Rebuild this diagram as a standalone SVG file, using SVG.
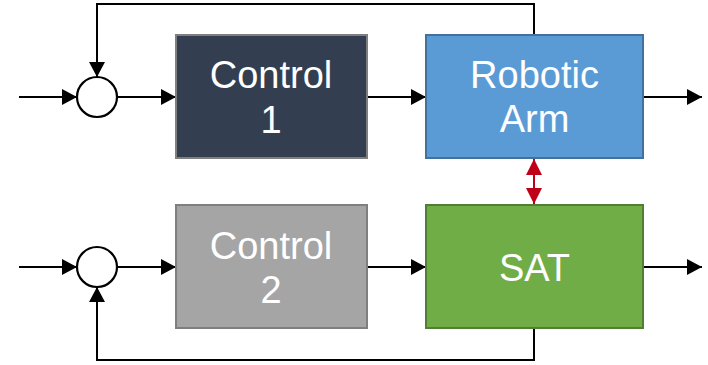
<svg xmlns="http://www.w3.org/2000/svg" width="708" height="365" viewBox="0 0 708 365">
  <defs>
    <marker id="arrow" markerUnits="userSpaceOnUse" markerWidth="18" markerHeight="18" viewBox="0 0 18 18" refX="15" refY="9" orient="auto">
      <path d="M0,1 L15,9 L0,17 Z" fill="#000"/>
    </marker>
    <marker id="arrowRed" markerUnits="userSpaceOnUse" markerWidth="18" markerHeight="18" viewBox="0 0 18 18" refX="16" refY="9" orient="auto-start-reverse">
      <path d="M0,1 L16,9 L0,17 Z" fill="#c00018"/>
    </marker>
    <style>
      .wire { fill: none; stroke: #000; stroke-width: 2; }
      .sum { fill: #fff; stroke: #000; stroke-width: 2.2; }
      .lbl { font-family: "Liberation Sans", Arial, sans-serif; font-size: 38px; fill: #fff; text-anchor: middle; }
    </style>
  </defs>

  <!-- connectors -->
  <g id="connectors">
    <!-- upper loop -->
    <path class="wire" d="M19,97 H77" marker-end="url(#arrow)"/>
    <path class="wire" d="M117,97 H176" marker-end="url(#arrow)"/>
    <path class="wire" d="M368,97 H426" marker-end="url(#arrow)"/>
    <path class="wire" d="M643,97 H702" marker-end="url(#arrow)"/>
    <path class="wire" d="M534,34 V4 H97 V77" marker-end="url(#arrow)"/>
    <!-- lower loop -->
    <path class="wire" d="M19,267 H77" marker-end="url(#arrow)"/>
    <path class="wire" d="M117,267 H176" marker-end="url(#arrow)"/>
    <path class="wire" d="M368,267 H426" marker-end="url(#arrow)"/>
    <path class="wire" d="M643,267 H702" marker-end="url(#arrow)"/>
    <path class="wire" d="M534,329 V360 H97 V287" marker-end="url(#arrow)"/>
    <!-- coupling between arm and satellite -->
    <path d="M534,159 V204" fill="none" stroke="#c00018" stroke-width="2" marker-start="url(#arrowRed)" marker-end="url(#arrowRed)"/>
  </g>

  <g id="sum1">
    <circle class="sum" cx="97" cy="97" r="20"/>
  </g>
  <g id="sum2">
    <circle class="sum" cx="97" cy="267" r="20"/>
  </g>

  <g id="control1">
    <rect x="176" y="35" width="191" height="123" fill="#333f50" stroke="#7f7f7f" stroke-width="2"/>
    <text class="lbl" x="271" y="88">Control</text>
    <text class="lbl" x="271" y="133">1</text>
  </g>

  <g id="robotic-arm">
    <rect x="426" y="35" width="217" height="123" fill="#5b9bd5" stroke="#41719c" stroke-width="2"/>
    <text class="lbl" x="534.5" y="88">Robotic</text>
    <text class="lbl" x="534.5" y="132">Arm</text>
  </g>

  <g id="control2">
    <rect x="176" y="205" width="191" height="123" fill="#a5a5a5" stroke="#7f7f7f" stroke-width="2"/>
    <text class="lbl" x="271" y="259">Control</text>
    <text class="lbl" x="271" y="303">2</text>
  </g>

  <g id="sat">
    <rect x="426" y="205" width="217" height="123" fill="#70ad47" stroke="#507e32" stroke-width="2"/>
    <text class="lbl" x="534.5" y="281">SAT</text>
  </g>
</svg>
